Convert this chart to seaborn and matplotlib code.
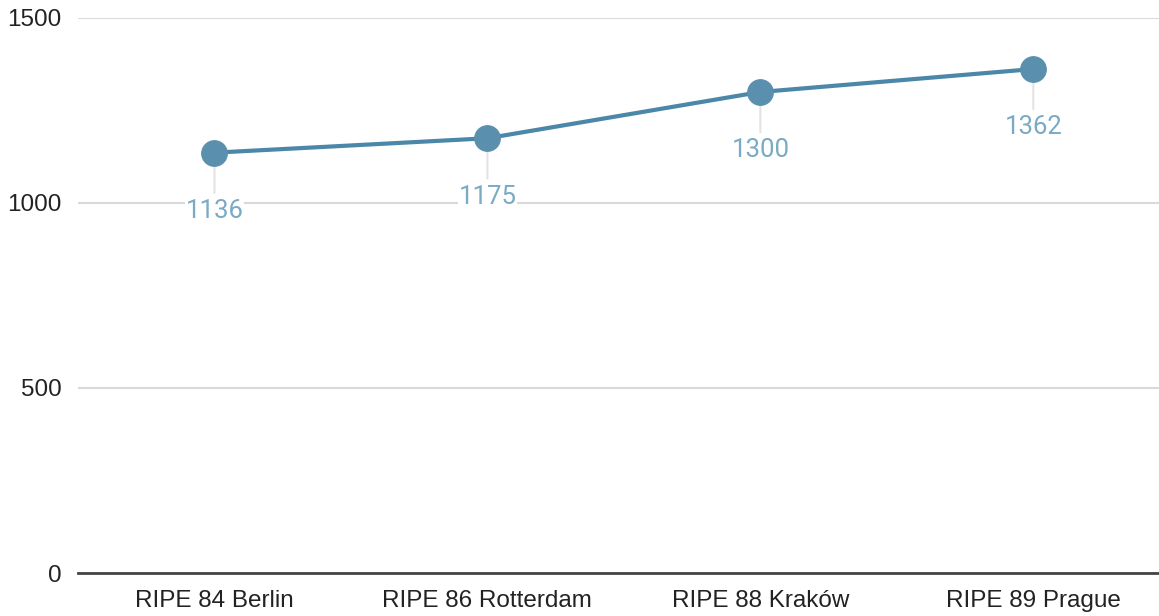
import pandas as pd
import matplotlib.pyplot as plt
import seaborn as sns

# datos del grafico
reuniones = ["RIPE 84 Berlin", "RIPE 86 Rotterdam", "RIPE 88 Kraków", "RIPE 89 Prague"]
asistentes = [1136, 1175, 1300, 1362]
ticks_y = [0, 500, 1000, 1500]

df = pd.DataFrame({"Reunion": reuniones, "Asistentes": asistentes})
df["pos"] = range(len(df))

sns.set_style("white")
plt.rcParams["font.family"] = ["Liberation Sans", "DejaVu Sans"]

fig = plt.figure(figsize=(11.59, 6.16), dpi=100)
ax = fig.add_axes([0.0673, 0.0698, 0.942, 0.901])

color_linea = "#4b87a8"
color_punto = "#5a8fae"
color_texto = "#7aaac4"

sns.lineplot(data=df, x="pos", y="Asistentes", ax=ax, color=color_linea, linewidth=3,
             marker="o", markersize=18.5, markerfacecolor=color_punto,
             markeredgecolor=color_punto, zorder=4)

# etiquetas de valor con linea guia
for i, v in zip(df["pos"], df["Asistentes"]):
    ax.annotate("", xy=(i, v), xytext=(0, -29), textcoords="offset points",
                arrowprops=dict(arrowstyle="-", color="#e3e3e3", lw=1.5,
                                shrinkA=0, shrinkB=9), zorder=2)
    ax.annotate(str(v), xy=(i, v), xytext=(0, -42), textcoords="offset points",
                ha="center", va="center", fontsize=18.5, color=color_texto,
                family=["Roboto", "DejaVu Sans"], zorder=3,
                bbox=dict(facecolor="white", edgecolor="none", pad=0.5))

ax.set_ylim(0, 1500)
ax.set_xlim(-0.5, 3.5)
ax.set_yticks(ticks_y)
ax.set_xticks(df["pos"])
ax.set_xticklabels(reuniones)
ax.set_xlabel("")
ax.set_ylabel("")
ax.tick_params(axis="both", length=0, labelsize=17.5, colors="#222222")
ax.tick_params(axis="x", pad=12)
ax.tick_params(axis="y", pad=12)

ax.grid(axis="y", color="#d9d9d9", linewidth=1.5)
ax.set_axisbelow(True)
for s in ["top", "right", "left"]:
    ax.spines[s].set_visible(False)
ax.spines["bottom"].set_color("#444444")
ax.spines["bottom"].set_linewidth(2)
ax.spines["bottom"].set_zorder(5)

plt.savefig("out.png", dpi=100)
